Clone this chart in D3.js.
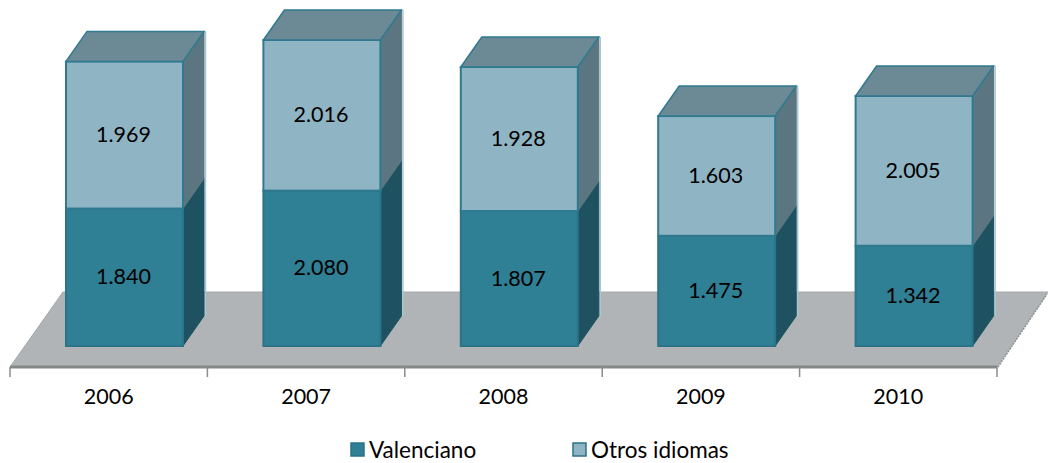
<!DOCTYPE html>
<html>
<head>
<meta charset="utf-8">
<script src="https://cdn.jsdelivr.net/npm/d3@7"></script>
<style>
  body { margin: 0; background: #fff; }
  text { font-family: Lato, sans-serif; fill: #000; }
</style>
</head>
<body>
<div id="vis"></div>
<script>
// values
var years = ["2006", "2007", "2008", "2009", "2010"];
var valenciano = [1840, 2080, 1807, 1475, 1342];
var otros = [1969, 2016, 1928, 1603, 2005];
var labelsValenciano = ["1.840", "2.080", "1.807", "1.475", "1.342"];
var labelsOtros = ["1.969", "2.016", "1.928", "1.603", "2.005"];

var w = 1048;
var h = 463;

var canvas = d3.select("#vis").append("svg").attr("width", w).attr("height", h).style("display", "block");

var x = d3.scaleBand().domain(years).range([10, 997]);
var y = d3.scaleLinear().domain([0, 4096]).range([346, 40]);

var barOffset = 56;
var barW = 117;
var depthX = 21;
var depthY = 30;
var axisY = 367;

// floor
canvas
  .append("path")
  .attr("d", "M10," + axisY + "L63,292L1048,292L997," + axisY + "Z")
  .attr("fill", "#b0b4b6")
  .attr("stroke", "#a4a8aa")
  .attr("stroke-width", 1);

// rough right edge of the floor
canvas
  .append("line")
  .attr("x1", 998)
  .attr("y1", axisY)
  .attr("x2", 1047)
  .attr("y2", 294)
  .attr("stroke", "#8f9294")
  .attr("stroke-width", 1.5)
  .attr("stroke-dasharray", "2 1");

canvas
  .append("line")
  .attr("x1", 10)
  .attr("x2", 997)
  .attr("y1", axisY)
  .attr("y2", axisY)
  .attr("stroke", "#868888")
  .attr("stroke-width", 3);

// ticks on the band edges
var edges = years.map(function (d) { return x(d); }).concat([997]);
canvas
  .selectAll(".edge")
  .data(edges)
  .enter()
  .append("line")
  .attr("class", "edge")
  .attr("x1", function (d) { return d; })
  .attr("x2", function (d) { return d; })
  .attr("y1", axisY)
  .attr("y2", axisY + 10)
  .attr("stroke", "#8c8c8c")
  .attr("stroke-width", 1.5);

var axis = canvas
  .append("g")
  .attr("transform", "translate(0," + axisY + ")")
  .call(d3.axisBottom(x).tickSize(0).tickPadding(22));
axis.select(".domain").remove();
axis.selectAll("text").style("font-family", "Lato, sans-serif").style("font-size", "21.5px").attr("fill", "#000");

function drawSegment(year, from, to, c) {
  var x0 = x(year) + barOffset;
  var x1 = x0 + barW;
  var yb = y(from);
  var yt = y(to);

  // side
  canvas
    .append("path")
    .attr("d", "M" + x1 + "," + yb + "L" + (x1 + depthX) + "," + (yb - depthY) + "L" + (x1 + depthX) + "," + (yt - depthY) + "L" + x1 + "," + yt + "Z")
    .attr("fill", c.side)
    .attr("stroke", c.side)
    .attr("stroke-width", 1);

  // front
  canvas
    .append("rect")
    .attr("x", x0)
    .attr("y", yt)
    .attr("width", barW)
    .attr("height", yb - yt)
    .attr("fill", c.front)
    .attr("stroke", c.stroke)
    .attr("stroke-width", 2);
}

var darkColors = { front: "#2f7f95", side: "#1f5261", stroke: "#2b7388" };
var lightColors = { front: "#8fb4c4", side: "#5b7680", stroke: "#2f7a90" };

years.forEach(function (year, i) {
  var total = valenciano[i] + otros[i];
  var x0 = x(year) + barOffset;

  // thin light edge behind the right side
  canvas
    .append("line")
    .attr("x1", x0 + barW + depthX + 1.5)
    .attr("x2", x0 + barW + depthX + 1.5)
    .attr("y1", y(total) - depthY)
    .attr("y2", y(0) - depthY)
    .attr("stroke", "#a9c6d1")
    .attr("stroke-width", 1.5);

  drawSegment(year, 0, valenciano[i], darkColors);
  drawSegment(year, valenciano[i], total, lightColors);

  // top
  var yt = y(total);
  canvas
    .append("path")
    .attr("d", "M" + x0 + "," + yt + "L" + (x0 + depthX) + "," + (yt - depthY) + "L" + (x0 + barW + depthX) + "," + (yt - depthY) + "L" + (x0 + barW) + "," + yt + "Z")
    .attr("fill", "#6b8a95")
    .attr("stroke", "#2f7a90")
    .attr("stroke-width", 1.5);

  // value labels
  canvas
    .append("text")
    .attr("x", x0 + barW / 2 - 1)
    .attr("y", (y(0) + y(valenciano[i])) / 2 + 7)
    .attr("text-anchor", "middle")
    .style("font-size", "21.5px")
    .text(labelsValenciano[i]);

  canvas
    .append("text")
    .attr("x", x0 + barW / 2 - 1)
    .attr("y", (y(valenciano[i]) + y(total)) / 2 + 7)
    .attr("text-anchor", "middle")
    .style("font-size", "21.5px")
    .text(labelsOtros[i]);
});

// legend
var legendNames = ["Valenciano", "Otros idiomas"];
var legendX = [351, 573];
var legendColors = [darkColors, lightColors];

legendNames.forEach(function (name, i) {
  canvas
    .append("rect")
    .attr("x", legendX[i])
    .attr("y", 443)
    .attr("width", 13)
    .attr("height", 13)
    .attr("fill", legendColors[i].front)
    .attr("stroke", "#2b7388")
    .attr("stroke-width", 1.5);

  canvas
    .append("text")
    .attr("x", legendX[i] + 18)
    .attr("y", 457.5)
    .style("font-size", "22.5px")
    .text(name);
});
</script>
</body>
</html>
